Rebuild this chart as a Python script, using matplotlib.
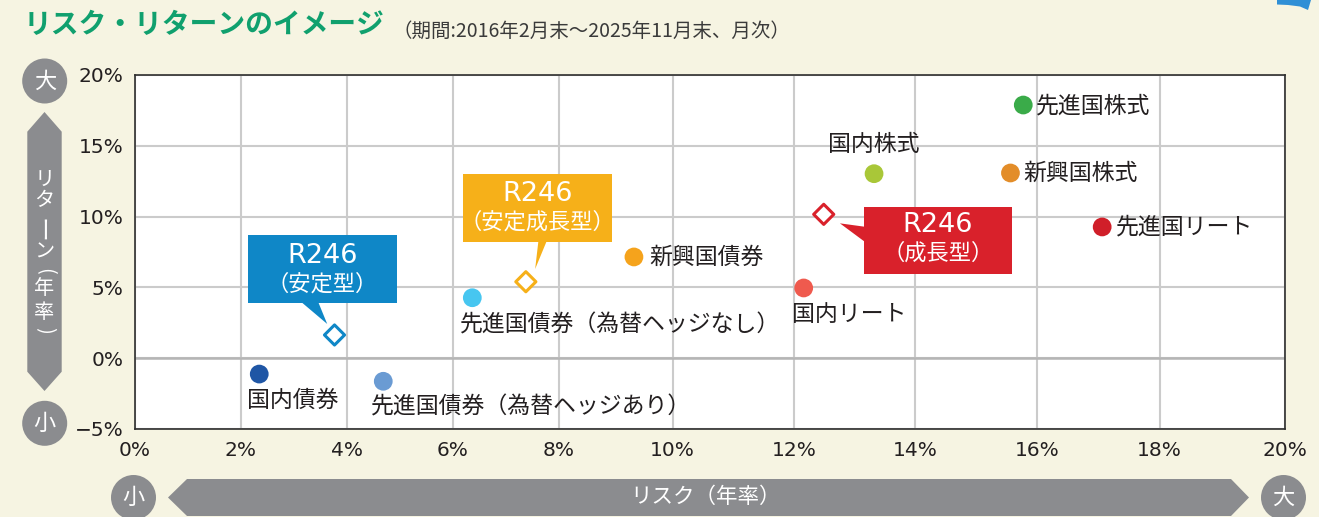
import numpy as np
import matplotlib
matplotlib.use("Agg")
import matplotlib.pyplot as plt
from matplotlib.patches import Polygon, Circle

# ---------------- data ----------------
asset_names = ["国内債券", "先進国債券（為替ヘッジあり）", "先進国債券（為替ヘッジなし）", "新興国債券",
               "国内株式", "先進国株式", "新興国株式", "国内リート", "先進国リート"]
asset_risk = [2.35, 4.69, 6.37, 9.32, 13.32, 15.77, 15.56, 12.16, 17.06]
asset_return = [-1.12, -1.63, 4.27, 7.15, 13.03, 17.88, 13.08, 4.96, 9.27]

fund_names = ["R246（安定型）", "R246（安定成長型）", "R246（成長型）"]
fund_risk = [3.77, 7.38, 12.49]
fund_return = [1.64, 5.40, 10.16]

x_ticks = [0, 2, 4, 6, 8, 10, 12, 14, 16, 18, 20]
x_tick_labels = ["0%", "2%", "4%", "6%", "8%", "10%", "12%", "14%", "16%", "18%", "20%"]
y_ticks = [-5, 0, 5, 10, 15, 20]
y_tick_labels = ["−5%", "0%", "5%", "10%", "15%", "20%"]

title = "リスク・リターンのイメージ"
subtitle = "（期間:2016年2月末～2025年11月末、月次）"
y_axis_title = "リターン(年率)"
x_axis_title = "リスク（年率）"

# ---------------- style ----------------
W, H = 1319, 517
CJK = ["Noto Sans CJK JP", "DejaVu Sans"]
BG = "#f6f4e2"
TXT = "#231f20"
GRAY = "#8b8c8f"

asset_colors = ["#1f56a5", "#6a9bd3", "#47c6f0", "#f5a31c", "#a9c738",
                "#3aab49", "#e38d29", "#ef5a4e", "#d01f29"]
# label offsets in pixels from the marker (dx, dy down), horizontal alignment
label_style = {
    "国内債券": (-12, 26, "left"),
    "先進国債券（為替ヘッジあり）": (-12, 26, "left"),
    "先進国債券（為替ヘッジなし）": (-12, 27, "left"),
    "新興国債券": (15, 0, "left"),
    "国内株式": (0, -29, "center"),
    "先進国株式": (13, 1, "left"),
    "新興国株式": (13, 0, "left"),
    "国内リート": (-12, 27, "left"),
    "先進国リート": (14, 0, "left"),
}
fund_colors = ["#0f87c7", "#f6b019", "#d9212b"]
# callout geometry in pixels relative to diamond (x right, y down)
callout_style = [
    dict(box=(-86.6, 62.0, -99.7, -32.3), tail=[(-33.3, -33), (-7.3, -11), (-16.3, -33)],
         t1=(-12.3, -79), t2=(-12.3, -50.7)),
    dict(box=(-62.4, 86.3, -107.7, -40.0), tail=[(12.6, -41), (9.3, -12.7), (21.0, -41)],
         t1=(12.0, -87.7), t2=(12.0, -59.4)),
    dict(box=(40.0, 188.0, -7.6, 59.7), tail=[(41, 12.4), (16.2, 9.0), (41, 27.4)],
         t1=(114.0, 10.7), t2=(114.0, 39.0)),
]

# piecewise x scale matching the reference's grid spacing (pixels from left spine)
scale_knots = np.array(x_ticks, dtype=float)
scale_pix = np.array([0, 106, 212, 318, 424, 538, 659.3, 780.6, 902.6, 1025, 1150.3])


def fwd(v):
    return np.interp(v, scale_knots, scale_pix)


def inv(v):
    return np.interp(v, scale_pix, scale_knots)


plt.rcParams["font.family"] = ["DejaVu Sans"]
fig = plt.figure(figsize=(W / 100, H / 100), dpi=100, facecolor=BG)

left, right, top, bottom = 134.7, 1285.0, 75.0, 429.0
ax = fig.add_axes([left / W, (H - bottom) / H, (right - left) / W, (bottom - top) / H])
ax.set_facecolor("white")
ax.set_xscale("function", functions=(fwd, inv))
ax.set_xlim(0, 20)
ax.set_ylim(-5, 20)
ax.set_xticks(x_ticks)
ax.set_xticklabels(x_tick_labels)
ax.set_yticks(y_ticks)
ax.set_yticklabels(y_tick_labels)
ax.xaxis.set_minor_locator(matplotlib.ticker.NullLocator())
ax.tick_params(length=0, labelsize=14.5, labelcolor=TXT)
ax.tick_params(axis="x", pad=9)
ax.tick_params(axis="y", pad=8)
ax.grid(True, color="#cbcbcb", linewidth=1.5)
ax.set_axisbelow(True)
ax.axhline(0, color="#b5b5b5", linewidth=1.8, zorder=1)
for sp in ax.spines.values():
    sp.set_color("#2e2e2e")
    sp.set_linewidth(1.2)

ax.scatter(asset_risk, asset_return, s=182, c=asset_colors, edgecolors="none", zorder=3)
ax.scatter(fund_risk, fund_return, marker="D", s=105, facecolors="white",
           edgecolors=fund_colors, linewidths=2.2, zorder=4)

# overlay in image pixel coordinates for decorations
ov = fig.add_axes([0, 0, 1, 1], zorder=10)
ov.set_xlim(0, W)
ov.set_ylim(H, 0)
ov.set_axis_off()
ov.patch.set_visible(False)


def to_img(x, y):
    d = ax.transData.transform((x, y))
    return ov.transData.inverted().transform(d)


# asset labels
for name, xr, yr in zip(asset_names, asset_risk, asset_return):
    px, py = to_img(xr, yr)
    dx, dy, ha = label_style[name]
    ov.text(px + dx, py + dy, name, ha=ha, va="center", fontsize=16.5,
            color=TXT, family=CJK)

# callouts
for name, xr, yr, col, cs in zip(fund_names, fund_risk, fund_return, fund_colors, callout_style):
    px, py = to_img(xr, yr)
    x0, x1, y0, y1 = cs["box"]
    ov.add_patch(Polygon([(px + x0, py + y0), (px + x1, py + y0), (px + x1, py + y1),
                          (px + x0, py + y1)], closed=True, facecolor=col, edgecolor="none"))
    ov.add_patch(Polygon([(px + a, py + b) for a, b in cs["tail"]], closed=True,
                         facecolor=col, edgecolor="none"))
    ov.text(px + cs["t1"][0], py + cs["t1"][1], name[:4], ha="center", va="center",
            fontsize=19.5, color="white")
    ov.text(px + cs["t2"][0], py + cs["t2"][1], name[4:], ha="center", va="center",
            fontsize=16, color="white", family=CJK)

# title
ov.text(24, 25, title, ha="left", va="center", fontsize=20, fontweight="bold",
        color="#10a06e", family=CJK)
ov.text(392, 31, subtitle, ha="left", va="center", fontsize=14, color="#3a3a3a", family=CJK)

# top-right decoration
ov.add_patch(Polygon([(1277, 0), (1311, 0), (1308, 10), (1300, 6.5), (1288, 5), (1277, 4.5)],
                     closed=True, facecolor="#2f8fd6", edgecolor="none"))

# vertical axis arrow
ov.add_patch(Polygon([(44.5, 112), (61.7, 131.7), (61.7, 371.7), (44.5, 391),
                      (27.3, 371.7), (27.3, 131.7)], closed=True, facecolor=GRAY, edgecolor="none"))
for cy, ch in zip([81, 423.3], ["大", "小"]):
    ov.add_patch(Circle((44.7, cy), 22.5, facecolor=GRAY, edgecolor="none"))
    ov.text(44.7, cy, ch, ha="center", va="center", fontsize=16, color="white", family=CJK)
v_pos = [179, 201, 230, 252, 271, 289, 312, 330]
for yy, ch in zip(v_pos, y_axis_title):
    rot = -90 if ch in "ー()" else 0
    fs = 18 if ch == "ー" else 14.5
    xx = 40.0 if ch == "ー" else 44.5
    ov.text(xx, yy, ch, ha="center", va="center", fontsize=fs, color="white",
            family=CJK, rotation=rot, rotation_mode="anchor")

# horizontal axis arrow
ov.add_patch(Polygon([(168, 497.5), (187, 479), (1231, 479), (1249, 497.5), (1231, 516),
                      (187, 516)], closed=True, facecolor=GRAY, edgecolor="none"))
for cx, ch in zip([133.5, 1283.5], ["小", "大"]):
    ov.add_patch(Circle((cx, 497.5), 22.5, facecolor=GRAY, edgecolor="none"))
    ov.text(cx, 497.5, ch, ha="center", va="center", fontsize=16, color="white", family=CJK)
ov.text(706, 497, x_axis_title, ha="center", va="center", fontsize=15.5, color="white", family=CJK)

fig.savefig("out.png", dpi=100, facecolor=BG)
